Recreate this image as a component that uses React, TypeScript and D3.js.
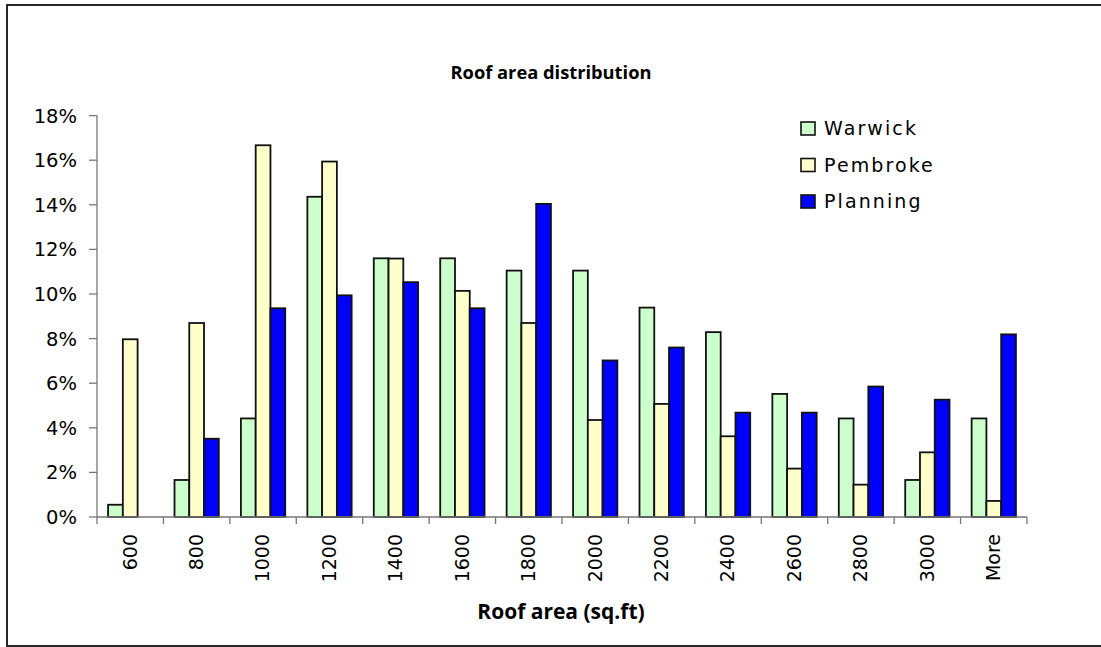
import React from "react";
import * as d3 from "d3";

// Roof area bins (sq.ft)
const categories = ["600", "800", "1000", "1200", "1400", "1600", "1800", "2000", "2200", "2400", "2600", "2800", "3000", "More"];

// Share of roofs in each bin, percent
const warwick = [0.55, 1.66, 4.42, 14.36, 11.6, 11.6, 11.05, 11.05, 9.39, 8.29, 5.52, 4.42, 1.66, 4.42];
const pembroke = [7.97, 8.7, 16.67, 15.94, 11.59, 10.14, 8.7, 4.35, 5.07, 3.62, 2.17, 1.45, 2.9, 0.72];
const planning = [0, 3.51, 9.36, 9.94, 10.53, 9.36, 14.04, 7.02, 7.6, 4.68, 4.68, 5.85, 5.26, 8.19];

const seriesNames = ["Warwick", "Pembroke", "Planning"];
const seriesColors = ["#CCFFCC", "#FFFFCC", "#0000FF"];
const seriesValues = [warwick, pembroke, planning];

const yTicks = [0, 2, 4, 6, 8, 10, 12, 14, 16, 18];

const W = 1101;
const H = 647;
const left = 97;
const right = 1027;
const top = 115.6;
const bottom = 517;

const tickFont = "'DejaVu Sans', Verdana, sans-serif";
const titleFont = "'Open Sans', 'Noto Sans', sans-serif";

export default function App() {
  const x = d3.scaleBand<string>().domain(categories).range([left, right]).paddingInner(1 / 3).paddingOuter(1 / 6);
  const xStep = (right - left) / categories.length;
  const xs = d3.scaleBand<string>().domain(seriesNames).range([0, x.bandwidth()]).padding(0);
  const y = d3.scaleLinear().domain([0, 18]).range([bottom, top]);

  const boundaries = d3.range(categories.length + 1).map((i) => left + i * xStep);

  return (
    <svg width={W} height={H} style={{ position: "absolute", left: 0, top: 0, background: "#fff" }}>
      <rect x={7} y={5} width={1100} height={641} fill="#fff" stroke="#111" strokeWidth={1.8} />

      <text x={551} y={79} textAnchor="middle" fontFamily={titleFont} fontWeight={700} fontSize={18.3} fill="#000">
        Roof area distribution
      </text>

      {/* bars */}
      {categories.map((c, i) => (
        <g key={c}>
          {seriesNames.map((s, k) => {
            const v = seriesValues[k][i];
            if (v <= 0) return null;
            return (
              <rect
                key={s}
                x={(x(c) as number) + (xs(s) as number)}
                y={y(v)}
                width={xs.bandwidth()}
                height={y(0) - y(v)}
                fill={seriesColors[k]}
                stroke="#111"
                strokeWidth={1.8}
              />
            );
          })}
        </g>
      ))}

      {/* y axis */}
      <line x1={left} x2={left} y1={y(18)} y2={y(0)} stroke="#777" strokeWidth={1.3} />
      {yTicks.map((t) => (
        <g key={t}>
          <line x1={left - 8} x2={left} y1={y(t)} y2={y(t)} stroke="#777" strokeWidth={1.3} />
          <text x={77} y={y(t)} dy="0.36em" textAnchor="end" fontFamily={tickFont} fontSize={19.5} fill="#000">
            {t}%
          </text>
        </g>
      ))}

      {/* x axis */}
      <line x1={left} x2={right} y1={bottom} y2={bottom} stroke="#777" strokeWidth={1.3} />
      {boundaries.map((b, i) => (
        <line key={i} x1={b} x2={b} y1={bottom} y2={bottom + 7} stroke="#777" strokeWidth={1.3} />
      ))}
      {categories.map((c) => {
        const cx = left + categories.indexOf(c) * xStep + xStep / 2;
        return (
          <text
            key={c}
            transform={`translate(${cx - 0.5},${534}) rotate(-90)`}
            dy="0.36em"
            textAnchor="end"
            fontFamily={tickFont}
            fontSize={19}
            fill="#000"
          >
            {c}
          </text>
        );
      })}

      <text x={561} y={619} textAnchor="middle" fontFamily={titleFont} fontWeight={700} fontSize={21} fill="#000">
        Roof area (sq.ft)
      </text>

      {/* legend */}
      {seriesNames.map((s, k) => (
        <g key={s} transform={`translate(801,${122 + k * 36.5})`}>
          <rect x={0} y={0} width={14} height={13} fill={seriesColors[k]} stroke="#111" strokeWidth={1.6} />
          <text x={23} y={6.5} dy="0.36em" fontFamily={tickFont} fontSize={19} letterSpacing={2.1} fill="#000">
            {s}
          </text>
        </g>
      ))}
    </svg>
  );
}
